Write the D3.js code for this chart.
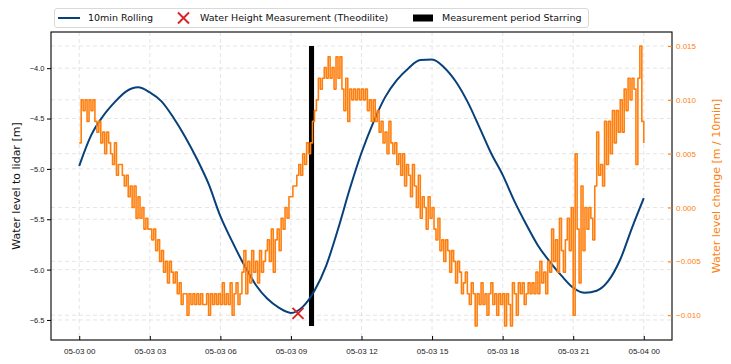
<!DOCTYPE html>
<html>
<head>
<meta charset="utf-8">
<script src="https://cdn.jsdelivr.net/npm/d3@7"></script>
<style>
  body { margin: 0; background: #fff; }
  svg { font-family: "DejaVu Sans", sans-serif; }
</style>
</head>
<body>
<div id="chart"></div>
<script>
// 10 min rolling water level [m], every 30 min from 05-03 00:00
const rollingHours = [0, 0.5, 1, 1.5, 2, 2.5, 3, 3.5, 4, 4.5, 5, 5.5, 6, 6.5, 7, 7.5, 8, 8.5, 9, 9.5,
  10, 10.5, 11, 11.5, 12, 12.5, 13, 13.5, 14, 14.5, 15, 15.5, 16, 16.5, 17, 17.5, 18, 18.5, 19, 19.5,
  20, 20.5, 21, 21.5, 22, 22.5, 23, 23.5, 24];
const rollingLevel = [-4.97, -4.67, -4.48, -4.34, -4.23, -4.19, -4.24, -4.33, -4.49, -4.68, -4.90, -5.15,
  -5.47, -5.72, -5.95, -6.15, -6.29, -6.38, -6.43, -6.37, -6.21, -5.96, -5.60, -5.20, -4.84, -4.54,
  -4.29, -4.12, -4.00, -3.92, -3.915, -3.99, -4.13, -4.33, -4.58, -4.84, -5.06, -5.32, -5.55, -5.76,
  -5.92, -6.06, -6.18, -6.23, -6.21, -6.11, -5.90, -5.585, -5.29];

// water level change [mm / 10min], one value every 5 min from 05-03 00:00
const changeStepMin = 5;
const changeMm = [
  6, 10, 9, 10, 8, 10, 9, 10, 8, 7, 8, 6,
  7, 5, 7, 6, 5, 4, 6, 3, 4, 4, 3, 2,
  3, 1, 2, 0, 2, -1, 1, -1, 0, -2, -1, -2,
  -2, -3, -2, -4, -3, -5, -4, -6, -5, -7, -5, -6,
  -7, -6, -8, -7, -9, -8, -8, -10, -8, -9, -8, -9,
  -8, -9, -8, -9, -9, -8, -10, -8, -9, -8, -9, -8,
  -9, -7, -9, -8, -9, -7, -10, -8, -7, -9, -8, -6,
  -4, -8, -5, -7, -4, -6, -5, -7, -4, -6, -5, -4,
  -3, -5, -2, -6, -3, -2, -4, -1, -2, 0, -1, 1,
  1, 2, 2, 3, 4, 3, 5, 4, 6, 5, 6, 8,
  9, 10, 12, 11, 12, 13, 12, 14, 12, 13, 11, 14,
  12, 14, 11, 9, 12, 8, 11, 10, 11, 10, 11, 10,
  11, 10, 11, 9, 10, 8, 10, 8, 9, 7, 8, 6,
  7, 5, 8, 6, 5, 6, 4, 5, 3, 5, 2, 4,
  3, 1, 4, 2, 0, 3, -1, 1, 0, -2, 1, -1,
  0, -2, -3, -1, -4, -3, -5, -3, -4, -6, -4, -5,
  -7, -5, -6, -8, -7, -6, -8, -9, -7, -8, -11, -8,
  -9, -7, -9, -8, -10, -8, -7, -9, -8, -10, -8, -9,
  -8, -11, -8, -9, -11, -7, -8, -10, -7, -8, -7, -9,
  -8, -7, -8, -7, -8, -6, -8, -5, -7, -6, -8, -5,
  -6, -2, -5, -3, -6, -1, -4, -6, -3, -1, -4, 0,
  -10, 5, -2, -7, 2, -4, 0, -2, 0, -1, -3, 2,
  7, 3, 4, 2, 8, 4, 8, 5, 9, 6, 9, 7,
  10, 7, 11, 9, 12, 10, 12, 11, 4, 12, 15, 8,
  6
];

// theodolite measurement
const theoTime = '09:18';
const theoLevel = -6.435;

// Starring measurement period
const periodStart = '09:46';
const periodEnd = '09:59';
const periodLow = -6.56;
const periodHigh = -3.78;

const xTickHours = [0, 3, 6, 9, 12, 15, 18, 21, 24];
const levelTicks = [-6.5, -6.0, -5.5, -5.0, -4.5, -4.0];
const changeTicks = [-0.010, -0.005, 0.000, 0.005, 0.010, 0.015];

const legendLabels = ['10min Rolling', 'Water Height Measurement (Theodilite)', 'Measurement period Starring'];

// ---- layout
const width = 731, height = 364;
const frame = { left: 51, right: 672, top: 32, bottom: 340 };
const BLUE = '#08407a', ORANGE = '#ff7f0e', RED = '#d62728', GRID = '#dedede';

const t0 = new Date(2024, 4, 3, 0, 0);
const atHour = (h) => new Date(t0.getTime() + h * 3600e3);
const atClock = (s) => { const [hh, mm] = s.split(':').map(Number); return atHour(hh + mm / 60); };

const rolling = rollingHours.map((h, i) => ({ t: atHour(h), v: rollingLevel[i] }));
const change = changeMm.map((v, i) => ({ t: atHour(i * changeStepMin / 60), v: v / 1000 }));

// matplotlib-like 5 % margins
const pad = ([lo, hi]) => { const m = (hi - lo) * 0.05; return [lo - m, hi + m]; };

const x = d3.scaleTime()
  .domain(pad([0, 24]).map(atHour))
  .range([frame.left, frame.right]);

const yLevel = d3.scaleLinear()
  .domain(pad(d3.extent([...rollingLevel, periodLow, periodHigh, theoLevel])))
  .range([frame.bottom, frame.top]);

const yChange = d3.scaleLinear()
  .domain(pad(d3.extent(change, (d) => d.v)))
  .range([frame.bottom, frame.top]);

const svg = d3.select('#chart').append('svg')
  .attr('width', width).attr('height', height);

// grid
const grid = svg.append('g').attr('stroke', GRID).attr('stroke-width', 0.8).attr('stroke-dasharray', '4,3');
grid.selectAll('.gx').data(xTickHours).enter().append('line')
  .attr('x1', (h) => x(atHour(h))).attr('x2', (h) => x(atHour(h)))
  .attr('y1', frame.top).attr('y2', frame.bottom);
grid.selectAll('.gl').data(levelTicks).enter().append('line')
  .attr('x1', frame.left).attr('x2', frame.right)
  .attr('y1', (d) => yLevel(d)).attr('y2', (d) => yLevel(d));
grid.selectAll('.gc').data(changeTicks).enter().append('line')
  .attr('x1', frame.left).attr('x2', frame.right)
  .attr('y1', (d) => yChange(d)).attr('y2', (d) => yChange(d));

// measurement period bar
svg.append('rect')
  .attr('x', x(atClock(periodStart)))
  .attr('width', x(atClock(periodEnd)) - x(atClock(periodStart)))
  .attr('y', yLevel(periodHigh))
  .attr('height', yLevel(periodLow) - yLevel(periodHigh))
  .attr('fill', '#000');

// rolling level
svg.append('path')
  .datum(rolling)
  .attr('fill', 'none')
  .attr('stroke', BLUE)
  .attr('stroke-width', 2)
  .attr('d', d3.line().x((d) => x(d.t)).y((d) => yLevel(d.v)).curve(d3.curveMonotoneX));

// theodolite cross
const cross = (g, cx, cy, r) => {
  g.append('path')
    .attr('d', `M${cx - r},${cy - r}L${cx + r},${cy + r}M${cx - r},${cy + r}L${cx + r},${cy - r}`)
    .attr('stroke', RED).attr('stroke-width', 2).attr('fill', 'none');
};
cross(svg, x(atClock(theoTime)), yLevel(theoLevel), 5.5);

// level change (twin axis, drawn on top)
svg.append('path')
  .datum(change)
  .attr('fill', 'none')
  .attr('stroke', ORANGE)
  .attr('stroke-width', 1.6)
  .attr('stroke-linejoin', 'round')
  .attr('d', d3.line().x((d) => x(d.t)).y((d) => yChange(d.v)).curve(d3.curveStepAfter));

// frame
svg.append('rect')
  .attr('x', frame.left).attr('y', frame.top)
  .attr('width', frame.right - frame.left).attr('height', frame.bottom - frame.top)
  .attr('fill', 'none').attr('stroke', '#000').attr('stroke-width', 1.1);

// axes
const xAxis = svg.append('g')
  .attr('transform', `translate(0,${frame.bottom})`)
  .call(d3.axisBottom(x).tickValues(xTickHours.map(atHour)).tickFormat(d3.timeFormat('%m-%d %H')).tickSize(-4));
xAxis.selectAll('text').attr('y', 14).attr('dy', 0).attr('font-size', 8).attr('fill', '#222');

const yAxis = svg.append('g')
  .attr('transform', `translate(${frame.left},0)`)
  .call(d3.axisLeft(yLevel).tickValues(levelTicks).tickFormat(d3.format('.1f')).tickSize(4).tickPadding(2.5));
yAxis.selectAll('text').attr('font-size', 7.5).attr('fill', '#222');

const cAxis = svg.append('g')
  .attr('transform', `translate(${frame.right},0)`)
  .call(d3.axisRight(yChange).tickValues(changeTicks).tickFormat(d3.format('.3f')).tickSize(-4).tickPadding(4));
cAxis.selectAll('text').attr('font-size', 8).attr('fill', ORANGE);
cAxis.selectAll('line').attr('stroke', ORANGE);

[xAxis, yAxis, cAxis].forEach((a) => a.select('.domain').remove());

svg.append('text')
  .attr('transform', `translate(16,${(frame.top + frame.bottom) / 2}) rotate(-90)`)
  .attr('text-anchor', 'middle').attr('dominant-baseline', 'central')
  .attr('font-size', 11).attr('fill', '#111')
  .text('Water level to lidar [m]');

svg.append('text')
  .attr('transform', `translate(716,${(frame.top + frame.bottom) / 2}) rotate(-90)`)
  .attr('text-anchor', 'middle').attr('dominant-baseline', 'central')
  .attr('font-size', 11).attr('fill', ORANGE)
  .text('Water level change [m / 10min]');

// legend
const legend = svg.append('g').attr('font-size', 9.5).attr('fill', '#111');
legend.append('rect')
  .attr('x', 54.5).attr('y', 8.5).attr('width', 534).attr('height', 19).attr('rx', 2.5)
  .attr('fill', '#fff').attr('stroke', '#cfcfcf').attr('stroke-width', 0.8);
legend.append('line')
  .attr('x1', 58).attr('x2', 80).attr('y1', 18).attr('y2', 18)
  .attr('stroke', BLUE).attr('stroke-width', 2);
cross(legend, 183.5, 18, 5.5);
legend.append('rect').attr('x', 413).attr('y', 14.5).attr('width', 20).attr('height', 7).attr('fill', '#000');
[88, 200, 442].forEach((lx, i) => {
  legend.append('text').attr('x', lx).attr('y', 18).attr('dy', '0.35em').text(legendLabels[i]);
});
</script>
</body>
</html>
